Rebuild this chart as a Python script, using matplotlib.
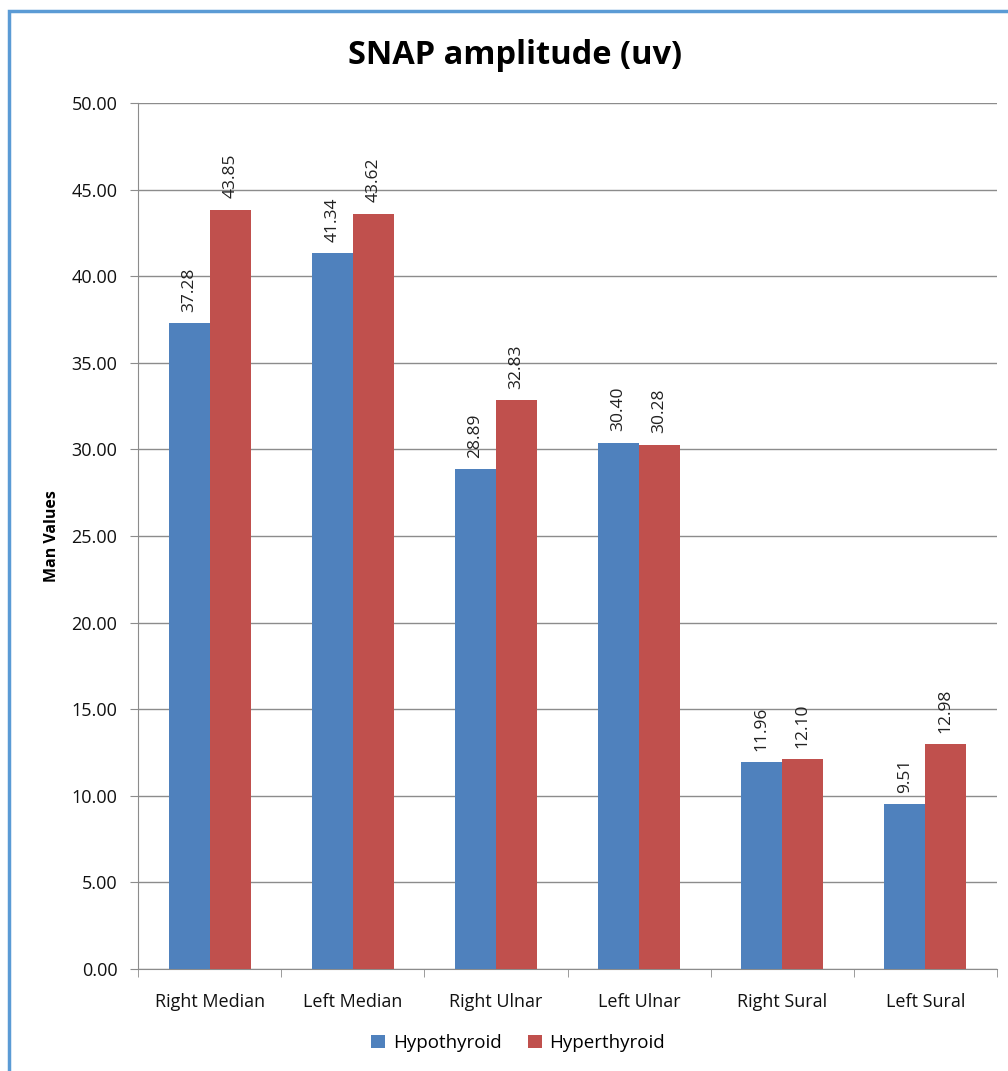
import numpy as np
import matplotlib.pyplot as plt
from matplotlib.patches import Rectangle

nerves = ["Right Median", "Left Median", "Right Ulnar", "Left Ulnar", "Right Sural", "Left Sural"]
hypo = [37.28, 41.34, 28.89, 30.40, 11.96, 9.51]
hyper = [43.85, 43.62, 32.83, 30.28, 12.10, 12.98]
yticks = [0, 5, 10, 15, 20, 25, 30, 35, 40, 45, 50]

blue = "#4F81BD"
red = "#C0504D"
grid = "#8C8C8C"
font = ["Open Sans", "DejaVu Sans"]

plt.rcParams["font.family"] = font

fig = plt.figure(figsize=(10.08, 10.71), dpi=100)
ax = fig.add_axes([0.137, 0.0952, 0.852, 0.8086])

x = np.arange(len(nerves))
w = 0.287
b1 = ax.bar(x - w / 2, hypo, w, color=blue, label="Hypothyroid", zorder=3)
b2 = ax.bar(x + w / 2, hyper, w, color=red, label="Hyperthyroid", zorder=3)

for bars, vals in ((b1, hypo), (b2, hyper)):
    for r, v in zip(bars, vals):
        ax.annotate("%.2f" % v, (r.get_x() + r.get_width() / 2, v),
                    xytext=(0, 8), textcoords="offset points",
                    rotation=90, ha="center", va="bottom",
                    fontsize=12.5, color="#222222")

ax.set_xlim(-0.5, len(nerves) - 0.5)
ax.set_ylim(0, 50)
ax.set_yticks(yticks)
ax.set_yticklabels(["%.2f" % t for t in yticks], fontsize=13, color="#111111")
ax.yaxis.grid(True, color=grid, lw=1, zorder=0)

# category labels centred, tick marks on group boundaries
ax.set_xticks(x)
ax.set_xticklabels(nerves, fontsize=13, color="#111111")
ax.tick_params(axis="x", length=0, pad=17)
ax.set_xticks(np.arange(len(nerves) + 1) - 0.5, minor=True)
ax.tick_params(axis="x", which="minor", length=6, color=grid, direction="out")
ax.tick_params(axis="y", length=6, color=grid, direction="out", pad=9)

for s in ("top", "right"):
    ax.spines[s].set_visible(False)
for s in ("left", "bottom"):
    ax.spines[s].set_color(grid)

ax.set_ylabel("Man Values", fontsize=11.5, fontweight="bold")
ax.yaxis.set_label_coords(-0.091, 0.5)

fig.text(0.511, 0.9486, "SNAP amplitude (uv)", ha="center", va="center",
         fontsize=23.5, fontweight="bold")

fig.legend(handles=[b1, b2], loc="center", bbox_to_anchor=(0.514, 0.026),
           ncol=2, frameon=False, fontsize=13.5, handlelength=0.75,
           handleheight=0.75, handletextpad=0.4, columnspacing=1.4)

fig.patches.append(Rectangle((0.009, -0.01), 1.2, 1.0, transform=fig.transFigure,
                             fill=False, ec="#5B9BD5", lw=2.5))

fig.savefig("out.png", dpi=100)
